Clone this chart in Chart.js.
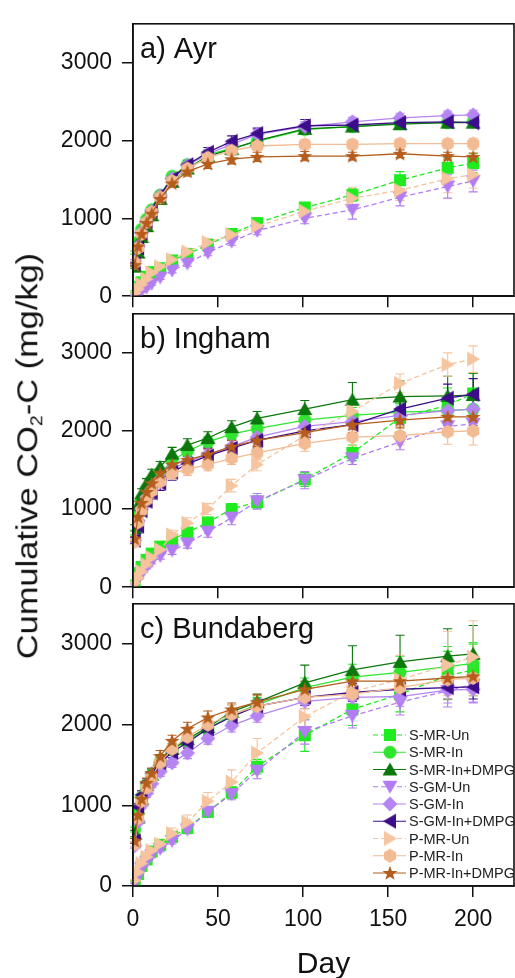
<!doctype html>
<html lang="en">

<head>
    <meta charset="utf-8">
    <title>Cumulative CO2-C</title>
    <script src="https://cdn.jsdelivr.net/npm/chart.js@4.4.1/dist/chart.umd.min.js"></script>
    <style>
        body {
            margin: 0;
            background: #fff;
            width: 515px;
            height: 978px;
            overflow: hidden;
            position: relative;
            font-family: "Liberation Sans", Arial, sans-serif;
            color: #111;
        }

        canvas.panel {
            position: absolute;
            left: 0;
        }

        #ylab {
            position: absolute;
            white-space: nowrap;
            font-size: 30px;
            line-height: 30px;
            transform-origin: center center;
        }

        #ylab sub {
            font-size: 17px;
            vertical-align: -5px;
            line-height: 0;
        }

        #xlab {
            position: absolute;
            left: 133px;
            width: 381px;
            top: 948px;
            text-align: center;
            font-size: 30px;
            line-height: 30px;
        }
    </style>
</head>

<body>
    <canvas id="chartA" class="panel" width="515" height="320" style="top:0px"></canvas>
    <canvas id="chartB" class="panel" width="515" height="321" style="top:290px"></canvas>
    <canvas id="chartC" class="panel" width="515" height="366" style="top:580px"></canvas>
    <div id="ylab">Cumulative CO<sub>2</sub>-C (mg/kg)</div>
    <div id="xlab">Day</div>
</body>
<script>

    // sampling days
    const days = [1, 3, 5, 8, 11, 16, 23, 32, 44, 58, 73, 101, 129, 157, 185, 200];

    const seriesNames = ['S-MR-Un', 'S-MR-In', 'S-MR-In+DMPG', 'S-GM-Un', 'S-GM-In', 'S-GM-In+DMPG',
        'P-MR-Un', 'P-MR-In', 'P-MR-In+DMPG'];

    const panelTitles = ['a) Ayr', 'b) Ingham', 'c) Bundaberg'];
    const xTicks = [0, 50, 100, 150, 200];
    const yTicks = [0, 1000, 2000, 3000];

    // a) Ayr - mean values, same order as seriesNames
    const ayrMean = [
        [60, 120, 180, 250, 310, 360, 460, 540, 660, 800, 940, 1140, 1300, 1490, 1650, 1710],
        [560, 700, 860, 990, 1110, 1300, 1540, 1690, 1820, 1900, 1990, 2140, 2180, 2220, 2230, 2240],
        [380, 560, 760, 900, 1040, 1250, 1470, 1640, 1800, 1890, 2000, 2150, 2180, 2210, 2230, 2230],
        [20, 40, 70, 110, 160, 240, 330, 420, 560, 700, 840, 1000, 1110, 1270, 1410, 1480],
        [450, 640, 820, 960, 1090, 1290, 1510, 1680, 1830, 1950, 2080, 2180, 2240, 2290, 2320, 2330],
        [420, 620, 810, 960, 1100, 1300, 1510, 1690, 1850, 1990, 2090, 2190, 2200, 2230, 2240, 2230],
        [40, 90, 150, 220, 300, 380, 470, 570, 690, 790, 900, 1090, 1260, 1360, 1510, 1560],
        [430, 620, 800, 950, 1080, 1270, 1480, 1640, 1780, 1870, 1930, 1950, 1950, 1960, 1960, 1960],
        [400, 640, 800, 940, 1060, 1250, 1450, 1600, 1700, 1760, 1790, 1800, 1800, 1830, 1800, 1790]
    ];
    const ayrErr = [
        [10, 15, 20, 20, 25, 30, 30, 35, 40, 45, 50, 60, 80, 110, 130, 120],
        [20, 30, 30, 35, 35, 40, 40, 45, 50, 50, 60, 60, 50, 50, 50, 50],
        [20, 30, 30, 35, 35, 40, 45, 45, 50, 50, 55, 60, 60, 55, 55, 55],
        [10, 10, 15, 20, 20, 25, 30, 35, 40, 45, 50, 70, 120, 110, 150, 140],
        [20, 25, 30, 35, 35, 40, 45, 50, 50, 55, 60, 60, 60, 60, 60, 60],
        [20, 25, 30, 35, 40, 45, 50, 55, 60, 70, 70, 80, 60, 60, 60, 60],
        [10, 15, 20, 25, 30, 35, 40, 45, 50, 60, 70, 80, 140, 130, 180, 170],
        [20, 25, 30, 35, 40, 45, 45, 50, 55, 60, 60, 60, 60, 60, 60, 70],
        [20, 25, 30, 35, 40, 45, 50, 55, 60, 60, 60, 60, 50, 50, 50, 50]
    ];

    // b) Ingham
    const inghamMean = [
        [80, 180, 260, 350, 430, 520, 610, 700, 830, 1000, 1090, 1380, 1720, 2170, 2330, 2480],
        [700, 950, 1100, 1250, 1350, 1460, 1620, 1740, 1860, 1960, 2030, 2140, 2200, 2240, 2260, 2280],
        [760, 1050, 1200, 1330, 1440, 1540, 1710, 1820, 1910, 2050, 2160, 2280, 2400, 2440, 2450, 2460],
        [40, 110, 180, 260, 330, 400, 470, 560, 710, 890, 1100, 1370, 1650, 1860, 2060, 2090],
        [600, 850, 1000, 1150, 1250, 1380, 1520, 1600, 1700, 1800, 1920, 2060, 2120, 2200, 2260, 2280],
        [600, 780, 980, 1100, 1210, 1330, 1470, 1580, 1680, 1780, 1880, 2000, 2080, 2280, 2420, 2470],
        [50, 120, 200, 290, 380, 480, 670, 820, 1000, 1300, 1570, 1940, 2250, 2610, 2850, 2920],
        [580, 830, 980, 1120, 1230, 1350, 1460, 1510, 1570, 1650, 1720, 1840, 1920, 1940, 1990, 2000],
        [620, 900, 1080, 1220, 1330, 1460, 1570, 1630, 1700, 1800, 1880, 1980, 2080, 2140, 2180, 2180]
    ];
    const inghamErr = [
        [10, 15, 20, 25, 30, 35, 40, 50, 60, 70, 80, 90, 100, 180, 220, 260],
        [30, 40, 50, 50, 50, 60, 60, 60, 70, 70, 80, 90, 100, 110, 120, 130],
        [40, 50, 60, 60, 70, 70, 80, 80, 80, 80, 90, 110, 220, 200, 250, 280],
        [10, 15, 20, 25, 30, 40, 50, 60, 70, 90, 100, 110, 80, 100, 110, 120],
        [30, 40, 50, 50, 60, 60, 60, 70, 70, 80, 80, 90, 100, 120, 130, 130],
        [40, 50, 60, 70, 80, 90, 100, 100, 100, 100, 100, 110, 120, 150, 180, 200],
        [10, 20, 30, 40, 50, 60, 60, 70, 70, 80, 80, 90, 100, 120, 150, 170],
        [30, 40, 50, 60, 60, 70, 70, 80, 80, 80, 90, 100, 110, 120, 160, 180],
        [30, 40, 50, 60, 60, 60, 70, 70, 70, 80, 80, 90, 100, 100, 110, 110]
    ];

    // c) Bundaberg
    const bundabergMean = [
        [60, 150, 250, 330, 430, 510, 610, 720, 920, 1160, 1480, 1870, 2190, 2380, 2610, 2680],
        [700, 900, 1100, 1250, 1380, 1540, 1690, 1800, 1950, 2120, 2250, 2460, 2590, 2650, 2720, 2760],
        [650, 850, 1080, 1250, 1380, 1560, 1700, 1820, 1970, 2160, 2280, 2520, 2680, 2780, 2850, 2880],
        [40, 120, 220, 300, 380, 460, 560, 700, 920, 1140, 1430, 1910, 2110, 2280, 2420, 2500],
        [500, 800, 1000, 1150, 1270, 1420, 1530, 1650, 1830, 1990, 2110, 2290, 2340, 2350, 2430, 2440],
        [560, 980, 1130, 1280, 1400, 1530, 1660, 1780, 1950, 2100, 2230, 2340, 2400, 2440, 2460, 2470],
        [70, 170, 280, 360, 440, 520, 650, 790, 1050, 1290, 1650, 2100, 2410, 2560, 2740, 2840],
        [520, 840, 1050, 1220, 1350, 1530, 1700, 1850, 2000, 2130, 2230, 2340, 2380, 2460, 2560, 2580],
        [560, 880, 1080, 1280, 1400, 1610, 1800, 1950, 2090, 2190, 2280, 2440, 2540, 2540, 2580, 2600]
    ];
    const bundabergErr = [
        [10, 15, 20, 25, 30, 35, 40, 50, 60, 70, 90, 200, 200, 220, 300, 320],
        [30, 40, 50, 50, 60, 60, 70, 70, 80, 80, 90, 120, 160, 200, 250, 260],
        [40, 50, 50, 60, 60, 70, 70, 80, 80, 90, 100, 220, 300, 330, 340, 350],
        [10, 15, 20, 25, 30, 35, 40, 50, 60, 70, 100, 150, 150, 160, 200, 220],
        [30, 40, 40, 50, 50, 60, 60, 70, 70, 80, 80, 90, 100, 120, 160, 170],
        [30, 40, 50, 50, 60, 60, 70, 70, 80, 80, 90, 100, 110, 120, 140, 150],
        [10, 20, 30, 40, 50, 60, 70, 90, 110, 150, 180, 200, 230, 300, 420, 450],
        [30, 40, 50, 50, 60, 60, 70, 70, 80, 120, 130, 140, 150, 180, 200, 220],
        [30, 40, 50, 60, 60, 70, 70, 80, 80, 80, 90, 100, 110, 120, 120, 130]
    ];

    // styles
    const seriesColors = ['#1fec1f', '#2ee62e', '#0b780b', '#b27cf2', '#b585f4', '#3c0c8a',
        '#f6c49e', '#f3bb93', '#b55d1c'];
    const seriesShapes = ['square', 'circle', 'up', 'down', 'diamond', 'left', 'right', 'hexagon', 'star'];
    const seriesDashed = [true, false, false, true, false, false, true, false, false];

    const FONT = '"Liberation Sans", Arial, sans-serif';

    let makeMarker = (shape, color) => {
        let c = document.createElement('canvas');
        c.width = 16;
        c.height = 16;
        let g = c.getContext('2d');
        g.fillStyle = color;
        g.beginPath();
        if (shape === 'square') {
            g.rect(2, 2, 12, 12);
        } else if (shape === 'circle') {
            g.arc(8, 8, 6.5, 0, Math.PI * 2);
        } else if (shape === 'up') {
            g.moveTo(8, 1); g.lineTo(15.5, 14); g.lineTo(0.5, 14);
        } else if (shape === 'down') {
            g.moveTo(0.5, 2); g.lineTo(15.5, 2); g.lineTo(8, 15);
        } else if (shape === 'left') {
            g.moveTo(1, 8); g.lineTo(14, 0.5); g.lineTo(14, 15.5);
        } else if (shape === 'right') {
            g.moveTo(15, 8); g.lineTo(2, 0.5); g.lineTo(2, 15.5);
        } else if (shape === 'diamond') {
            g.moveTo(8, 0.5); g.lineTo(15.5, 8); g.lineTo(8, 15.5); g.lineTo(0.5, 8);
        } else if (shape === 'hexagon') {
            for (let k = 0; k < 6; k++) {
                let a = Math.PI / 6 + k * Math.PI / 3;
                g.lineTo(8 + 7 * Math.cos(a), 8 + 7 * Math.sin(a));
            }
        } else if (shape === 'star') {
            for (let k = 0; k < 10; k++) {
                let r = k % 2 === 0 ? 7.8 : 3.2;
                let a = -Math.PI / 2 + k * Math.PI / 5;
                g.lineTo(8 + r * Math.cos(a), 8.5 + r * Math.sin(a));
            }
        }
        g.closePath();
        g.fill();
        return c;
    };

    let markers = seriesShapes.map((s, i) => makeMarker(s, seriesColors[i]));

    let buildDatasets = (means, errs) => seriesNames.map((name, i) => ({
        label: name,
        data: days.map((d, k) => ({ x: d, y: means[i][k] })),
        errors: errs[i],
        borderColor: seriesColors[i],
        backgroundColor: seriesColors[i],
        borderWidth: 1.3,
        borderDash: seriesDashed[i] ? [5, 3] : [],
        pointStyle: markers[i],
        pointRadius: 7,
        tension: 0,
        order: seriesNames.length - i
    }));

    // vertical error bars with caps, drawn through the y scale
    let errorBars = {
        id: 'errorBars',
        beforeDatasetsDraw(chart) {
            let ctx = chart.ctx;
            let yScale = chart.scales.y;
            ctx.save();
            ctx.lineWidth = 1.1;
            chart.data.datasets.forEach((ds, i) => {
                let meta = chart.getDatasetMeta(i);
                ctx.strokeStyle = ds.borderColor;
                meta.data.forEach((pt, j) => {
                    let v = ds.data[j].y, e = ds.errors[j];
                    let y1 = yScale.getPixelForValue(v - e);
                    let y2 = yScale.getPixelForValue(v + e);
                    ctx.beginPath();
                    ctx.moveTo(pt.x, y1); ctx.lineTo(pt.x, y2);
                    ctx.moveTo(pt.x - 4.5, y1); ctx.lineTo(pt.x + 4.5, y1);
                    ctx.moveTo(pt.x - 4.5, y2); ctx.lineTo(pt.x + 4.5, y2);
                    ctx.stroke();
                });
            });
            ctx.restore();
        }
    };

    // frame, panel title and (for the last panel) legend
    let panelBox = {
        id: 'panelBox',
        afterDraw(chart, args, opts) {
            let ctx = chart.ctx, a = chart.chartArea;
            ctx.save();
            ctx.strokeStyle = '#111';
            ctx.lineWidth = 1.6;
            ctx.strokeRect(a.left, a.top, a.right - a.left, a.bottom - a.top);
            ctx.fillStyle = '#111';
            ctx.font = '29px ' + FONT;
            ctx.textBaseline = 'alphabetic';
            ctx.fillText(opts.title, 140, a.top + 34);

            if (opts.legend) {
                ctx.font = '14.5px ' + FONT;
                ctx.textBaseline = 'middle';
                seriesNames.forEach((name, i) => {
                    let y = 155 + i * 17.25;
                    ctx.strokeStyle = seriesColors[i];
                    ctx.lineWidth = 1.2;
                    ctx.setLineDash(seriesDashed[i] ? [5, 3] : []);
                    ctx.beginPath();
                    ctx.moveTo(373, y);
                    ctx.lineTo(406, y);
                    ctx.stroke();
                    ctx.drawImage(markers[i], 390 - markers[i].width / 2, y - markers[i].height / 2);
                    ctx.fillStyle = '#222';
                    ctx.fillText(name, 409, y + 1);
                });
            }
            ctx.restore();
        }
    };

    let makePanel = (id, title, means, errs, xAxisHeight, showXLabels, legend) => new Chart(document.getElementById(id), {
        type: 'line',
        data: { datasets: buildDatasets(means, errs) },
        options: {
            responsive: false,
            animation: false,
            events: [],
            layout: { autoPadding: false, padding: { top: 15, right: 1, left: 0, bottom: 0 } },
            plugins: {
                legend: { display: false },
                tooltip: { enabled: false },
                panelBox: { title: title, legend: legend }
            },
            scales: {
                x: {
                    type: 'linear',
                    min: 0,
                    max: 224,
                    afterBuildTicks: s => { s.ticks = xTicks.map(v => ({ value: v })); },
                    afterFit: s => { s.height = xAxisHeight; },
                    grid: { drawOnChartArea: false, drawTicks: true, tickLength: 11, color: '#111', lineWidth: 1.5 },
                    border: { display: true, color: '#111', width: 1.6 },
                    ticks: {
                        display: showXLabels, color: '#111', font: { family: FONT, size: 23 }, padding: 9, maxRotation: 0,
                        callback: v => String(v)
                    }
                },
                y: {
                    min: 0,
                    max: 3500,
                    afterBuildTicks: s => { s.ticks = yTicks.map(v => ({ value: v })); },
                    afterFit: s => { s.width = 133; },
                    grid: { drawOnChartArea: false, drawTicks: true, tickLength: 11, color: '#111', lineWidth: 1.5 },
                    border: { display: true, color: '#111', width: 1.6 },
                    ticks: { color: '#111', font: { family: FONT, size: 23 }, padding: 10, callback: v => String(v) }
                }
            }
        },
        plugins: [errorBars, panelBox]
    });

    makePanel('chartA', panelTitles[0], ayrMean, ayrErr, 15, false, false);
    makePanel('chartB', panelTitles[1], inghamMean, inghamErr, 15, false, false);
    makePanel('chartC', panelTitles[2], bundabergMean, bundabergErr, 60, true, true);

    // rotated y title, stretched to the length seen in the figure
    let ylab = document.getElementById('ylab');
    let w = ylab.offsetWidth, h = ylab.offsetHeight;
    ylab.style.left = (27 - w / 2) + 'px';
    ylab.style.top = (456 - h / 2) + 'px';
    ylab.style.transform = 'rotate(-90deg) scaleX(' + (407 / w).toFixed(3) + ')';
</script>

</html>
